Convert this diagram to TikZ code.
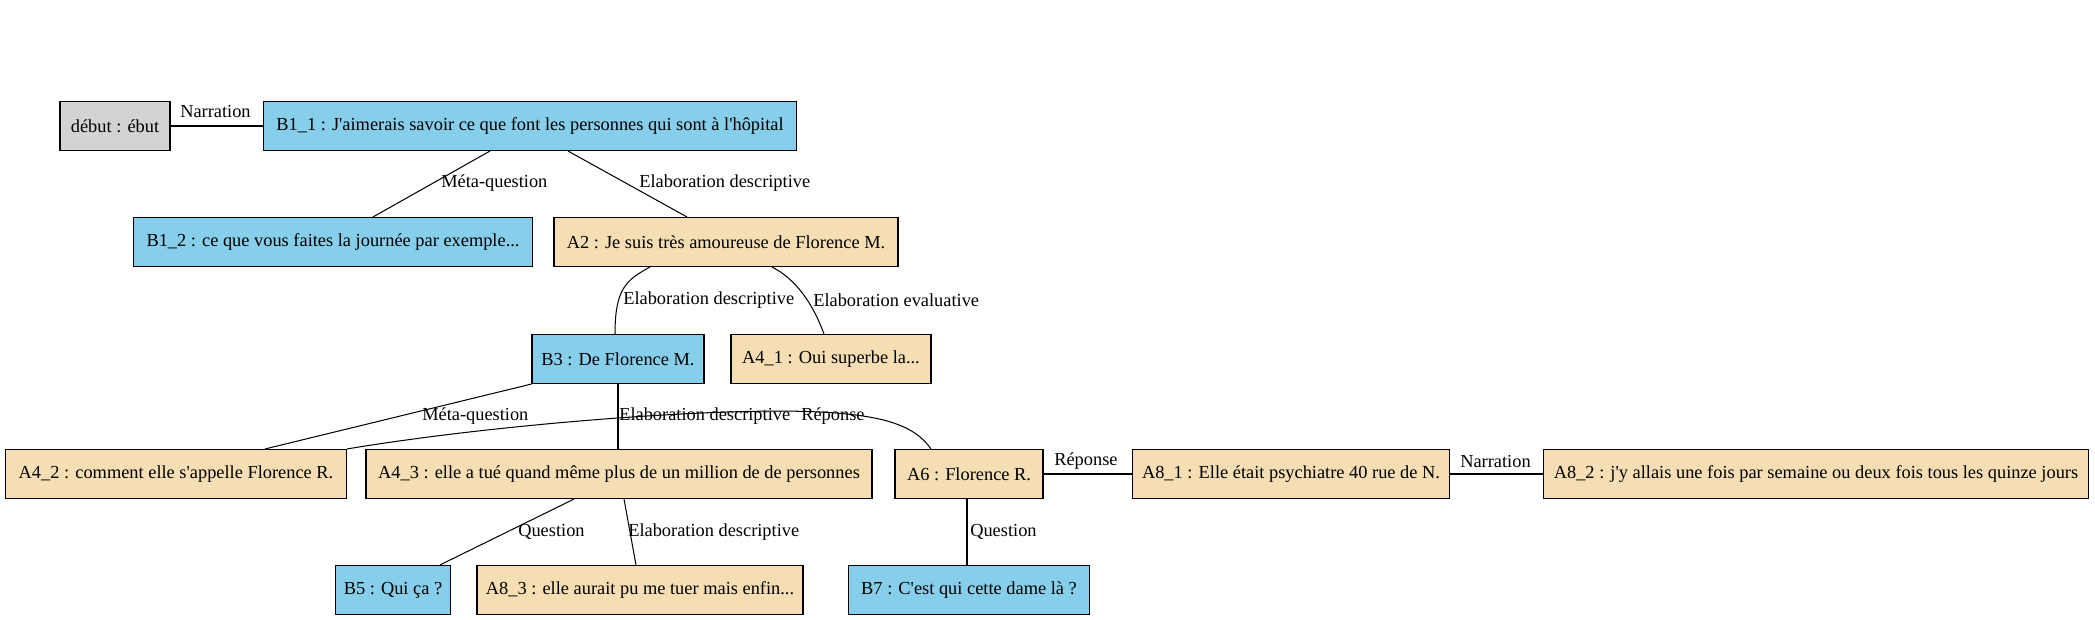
\documentclass[tikz,border=0pt]{standalone}
\usepackage{fontspec}
\setmainfont{Liberation Serif}[Ligatures=TeXOff]
\usetikzlibrary{calc}
\definecolor{bnode}{HTML}{87CEEB}
\definecolor{anode}{HTML}{F5DEB3}
\definecolor{dnode}{HTML}{D3D3D3}
\tikzset{
  box/.style={draw=black, line width=0.8pt, rectangle, minimum height=36pt, inner xsep=2pt, inner ysep=0pt, font=\fontsize{13.5}{16}\selectfont, anchor=center},
  bbox/.style={box, fill=bnode},
  abox/.style={box, fill=anode},
  dbox/.style={box, fill=dnode},
  lbl/.style={anchor=west, inner sep=0pt, font=\fontsize{13.5}{16}\selectfont},
  edge/.style={draw=black, line width=0.75pt},
}
\begin{document}
\begin{tikzpicture}[x=0.7347pt, y=-0.7347pt]
\useasboundingbox[fill=white] (0,0) rectangle (2095,620);
% nodes
\node[dbox, minimum width=110*0.7347pt] (debut) at (115,126) {début : ébut};
\node[bbox, minimum width=533*0.7347pt] (B11) at (530,126) {B1\_1 : J'aimerais savoir ce que font les personnes qui sont à l'hôpital};
\node[bbox, minimum width=399*0.7347pt] (B12) at (333,242) {B1\_2 : ce que vous faites la journée par exemple...};
\node[abox, minimum width=344*0.7347pt] (A2) at (726,242) {A2 : Je suis très amoureuse de Florence M.};
\node[bbox, minimum width=172*0.7347pt] (B3) at (618,359) {B3 : De Florence M.};
\node[abox, minimum width=200*0.7347pt] (A41) at (831,359) {A4\_1 : Oui superbe la...};
\node[abox, minimum width=341*0.7347pt] (A42) at (176,474) {A4\_2 : comment elle s'appelle Florence R.};
\node[abox, minimum width=506*0.7347pt] (A43) at (619,474) {A4\_3 : elle a tué quand même plus de un million de de personnes};
\node[abox, minimum width=148*0.7347pt] (A6) at (969,474) {A6 : Florence R.};
\node[abox, minimum width=317*0.7347pt] (A81) at (1291,474) {A8\_1 : Elle était psychiatre 40 rue de N.};
\node[abox, minimum width=545*0.7347pt] (A82) at (1816,474) {A8\_2 : j'y allais une fois par semaine ou deux fois tous les quinze jours};
\node[bbox, minimum width=115*0.7347pt] (B5) at (393,590) {B5 : Qui ça ?};
\node[abox, minimum width=326*0.7347pt] (A83) at (640,590) {A8\_3 : elle aurait pu me tuer mais enfin...};
\node[bbox, minimum width=241*0.7347pt] (B7) at (969,590) {B7 : C'est qui cette dame là ?};
% edges
\draw[edge] (debut.east) -- (B11.west);
\draw[edge] ($(B11.south)+(-40,0)$) -- ($(B12.north)+(40,0)$);
\draw[edge] ($(B11.south)+(38,0)$) -- ($(A2.north)+(-39,0)$);
\draw[edge] ($(A2.south)+(-76,0)$) .. controls ($(A2.south)+(-100,13)$) and ($(B3.north)+(-3,-45)$) .. ($(B3.north)+(-3,0)$);
\draw[edge] ($(A2.south)+(46,0)$) .. controls ($(A2.south)+(70,12)$) and ($(A41.north)+(-18,-30)$) .. ($(A41.north)+(-7,0)$);
\draw[edge] (B3.south west) -- ($(A42.north)+(89,0)$);
\draw[edge] (B3.south) -- (B3.south |- A43.north);
\draw[edge] (A42.north east) .. controls ($(A42.north east)+(150,-25)$) and ($(A6.north)+(-250,-42)$) .. ($(A6.north)+(-150,-37)$) .. controls ($(A6.north)+(-90,-34)$) and ($(A6.north)+(-55,-25)$) .. ($(A6.north)+(-38,0)$);
\draw[edge] ($(A43.south)+(-45,0)$) -- ($(B5.north)+(47,0)$);
\draw[edge] ($(A43.south)+(5,0)$) -- ($(A83.north)+(-4,0)$);
\draw[edge] ($(A6.south)+(-2,0)$) -- ($(B7.north)+(-2,0)$);
\draw[edge] (A6.east) -- (A81.west);
\draw[edge] (A81.east) -- (A82.west);
% labels
\node[lbl] (l1) at (180,112) {Narration};
\node[lbl] (l2) at (441,183) {Méta-question};
\node[lbl] (l3) at (639,183) {Elaboration descriptive};
\node[lbl] (l4) at (623,300) {Elaboration descriptive};
\node[lbl] (l5) at (813,300) {Elaboration evaluative};
\node[lbl] (l6) at (422,416) {Méta-question};
\node[lbl] (l7) at (619,416) {Elaboration descriptive};
\node[lbl] (l8) at (801,416) {Réponse};
\node[lbl] (l9) at (518,532) {Question};
\node[lbl] (l10) at (628,532) {Elaboration descriptive};
\node[lbl] (l11) at (970,532) {Question};
\node[lbl] (l12) at (1054,461) {Réponse};
\node[lbl] (l13) at (1460,461) {Narration};
\end{tikzpicture}
\end{document}
